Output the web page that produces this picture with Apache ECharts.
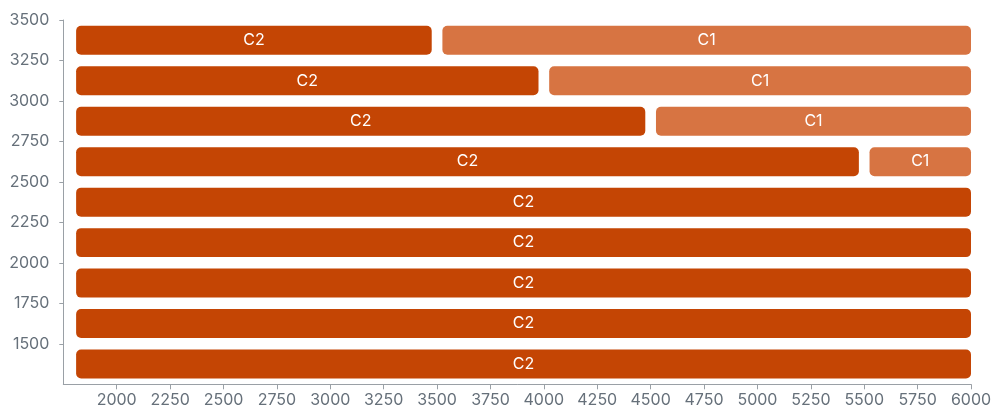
<!DOCTYPE html>
<html>
<head>
<meta charset="utf-8">
<script src="https://cdn.jsdelivr.net/npm/echarts@6/dist/echarts.min.js"></script>
<style>
html,body{margin:0;padding:0;background:#fff;overflow:hidden;}
#main{width:991px;height:410px;}
</style>
</head>
<body>
<div id="main"></div>
<script>
// Row bins on the y axis (lower edge of each 250-wide bin)
const rowBins = [1250, 1500, 1750, 2000, 2250, 2500, 2750, 3000, 3250];
const binWidth = 250;
// C2 segment (start, end) per row
const c2Start = [1810, 1810, 1810, 1810, 1810, 1810, 1810, 1810, 1810];
const c2End   = [6000, 6000, 6000, 6000, 6000, 5475, 4475, 3975, 3475];
// C1 segment (start, end) per row; null = no C1 segment
const c1Start = [null, null, null, null, null, 5525, 4525, 4025, 3525];
const c1End   = [null, null, null, null, null, 6000, 6000, 6000, 6000];
// Tick labels
const xTicks = [2000, 2250, 2500, 2750, 3000, 3250, 3500, 3750, 4000, 4250, 4500, 4750, 5000, 5250, 5500, 5750, 6000];
const yTicks = [1500, 1750, 2000, 2250, 2500, 2750, 3000, 3250, 3500];

const colorC2 = '#c44504';
const colorC1 = '#d77442';

const segs = [];
rowBins.forEach((b, i) => {
  segs.push([c2Start[i], c2End[i], b, b + binWidth, 'C2']);
  if (c1Start[i] != null) segs.push([c1Start[i], c1End[i], b, b + binWidth, 'C1']);
});

function renderItem(params, api) {
  const x0 = api.value(0), x1 = api.value(1), y0 = api.value(2), y1 = api.value(3);
  const name = api.value(4);
  const p0 = api.coord([x0, y1]);
  const p1 = api.coord([x1, y0]);
  const band = p1[1] - p0[1];
  const h = band * 0.716;
  const cy = (p0[1] + p1[1]) / 2;
  const rect = { x: p0[0], y: cy - h / 2, width: p1[0] - p0[0], height: h, r: 5 };
  return {
    type: 'rect',
    shape: rect,
    style: { fill: name === 'C2' ? colorC2 : colorC1 },
    textContent: {
      style: { text: name, fill: '#ffffff', fontSize: 16, fontFamily: 'Inter' }
    },
    textConfig: { position: 'inside' }
  };
}

const chart = echarts.init(document.getElementById('main'), null, { width: 991, height: 410 });
chart.setOption({
  animation: false,
  grid: { left: 63.3, right: 20, top: 20, bottom: 25.7, containLabel: false, outerBoundsMode: 'none' },
  xAxis: {
    type: 'value', min: 1750, max: 6000, interval: 250,
    splitLine: { show: false },
    axisLine: { show: true, lineStyle: { color: '#9aa0a6', width: 1 } },
    axisTick: { show: true, length: 5, lineStyle: { color: '#9aa0a6' }, customValues: xTicks },
    axisLabel: { color: '#66707a', fontSize: 16, fontFamily: 'Inter', margin: 8, customValues: xTicks, formatter: v => String(v) }
  },
  yAxis: {
    type: 'value', min: 1250, max: 3500, interval: 250,
    splitLine: { show: false },
    axisLine: { show: true, lineStyle: { color: '#9aa0a6', width: 1 } },
    axisTick: { show: true, length: 4, lineStyle: { color: '#9aa0a6' }, customValues: yTicks },
    axisLabel: { color: '#66707a', fontSize: 16, fontFamily: 'Inter', margin: 14, customValues: yTicks, formatter: v => String(v) }
  },
  series: [{
    type: 'custom',
    renderItem: renderItem,
    encode: { x: [0, 1], y: [2, 3] },
    data: segs
  }]
});
</script>
</body>
</html>
